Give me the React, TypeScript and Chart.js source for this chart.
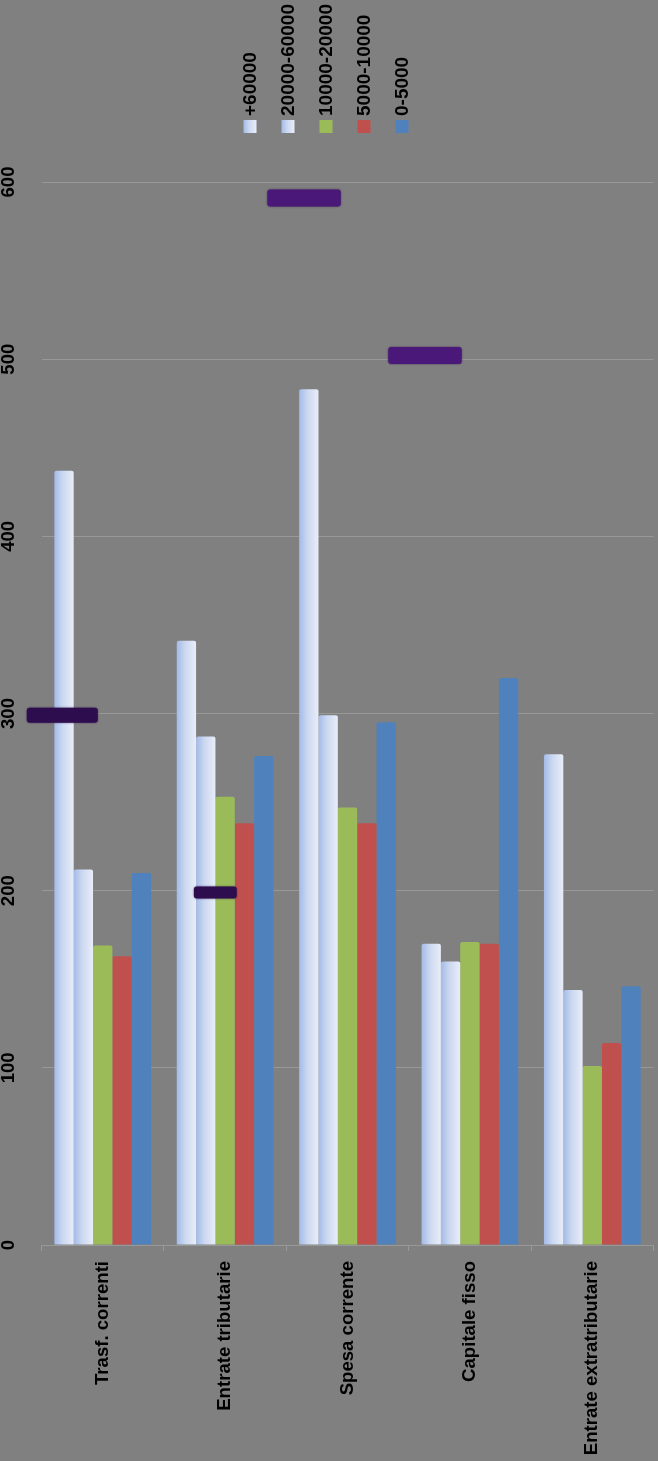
import React, { useEffect, useRef } from 'react';
import { Chart, registerables } from 'chart.js';

Chart.register(...registerables);

const categories = [
  'Trasf. correnti',
  'Entrate tributarie',
  'Spesa corrente',
  'Capitale fisso',
  'Entrate extratributarie',
];
const seriesLabels = ['+60000', '20000-60000', '10000-20000', '5000-10000', '0-5000'];
const valuesOver60000 = [437, 341, 483, 170, 277];
const values20000to60000 = [212, 287, 299, 160, 144];
const values10000to20000 = [169, 253, 247, 171, 101];
const values5000to10000 = [163, 238, 238, 170, 114];
const values0to5000 = [210, 276, 295, 320, 146];
const yTickValues = [0, 100, 200, 300, 400, 500, 600];
// redacted marks placed in categories 0..3
const markerValues = [299, 199, 591, 502];

const FONT = "'Liberation Sans', Arial, sans-serif";
const BG = '#808080';
const GRID = '#989898';
const CAT_PCT = 0.79;
const solidColors = [null, null, '#9bbb59', '#c0504d', '#4f81bd'];
const markerOffsets = [-0.33, -0.08, -0.355, -0.367];
const markerWidths = [0.58, 0.35, 0.6, 0.6];
const markerHeights = [15, 12, 17, 17];

function lightGradient(ctx: CanvasRenderingContext2D, left: number, w: number) {
  const g = ctx.createLinearGradient(left, 0, left + w, 0);
  g.addColorStop(0, '#a3bbe7');
  g.addColorStop(0.45, '#cdd9f1');
  g.addColorStop(1, '#e8edf8');
  return g;
}

const barFill = (c: any) => {
  const ds = c.datasetIndex;
  if (solidColors[ds]) return solidColors[ds];
  const chart = c.chart;
  const xs = chart.scales && chart.scales.x;
  if (!xs || c.type !== 'data' || !xs.width) return '#c8d6f0';
  const catW = xs.width / categories.length;
  const barW = (catW * CAT_PCT) / seriesLabels.length;
  const left = xs.getPixelForValue(c.dataIndex) - (catW * CAT_PCT) / 2 + ds * barW;
  return lightGradient(chart.ctx, left, barW);
};

const markerPlugin = {
  id: 'markers',
  afterDatasetsDraw(chart: any) {
    const { ctx, scales } = chart;
    const x = scales.x;
    const y = scales.y;
    const catW = x.width / categories.length;
    ctx.save();
    markerValues.forEach((v, i) => {
      const cx = x.getPixelForValue(i) + markerOffsets[i] * catW;
      const w = markerWidths[i] * catW;
      const h = markerHeights[i];
      const cy = y.getPixelForValue(v);
      ctx.shadowColor = 'rgba(40,10,70,0.7)';
      ctx.shadowBlur = 2;
      ctx.fillStyle = i < 2 ? '#2e0d4e' : '#4a1878';
      ctx.beginPath();
      (ctx as any).roundRect(cx - w / 2, cy - h / 2, w, h, 3);
      ctx.fill();
    });
    ctx.restore();
  },
};

const legendPlugin = {
  id: 'rotLegend',
  afterDraw(chart: any) {
    const ctx: CanvasRenderingContext2D = chart.ctx;
    ctx.save();
    seriesLabels.forEach((label, i) => {
      const cx = 250 + i * 38;
      const sy = 120;
      const s = 13;
      ctx.fillStyle = solidColors[i] || lightGradient(ctx, cx - s / 2, s);
      ctx.fillRect(cx - s / 2, sy, s, s);
      ctx.save();
      ctx.translate(cx, sy - 4);
      ctx.rotate(-Math.PI / 2);
      ctx.font = `bold 19px ${FONT}`;
      ctx.fillStyle = '#000';
      ctx.textAlign = 'left';
      ctx.textBaseline = 'middle';
      ctx.fillText(label, 0, 1);
      ctx.restore();
    });
    ctx.restore();
  },
};

export default function App() {
  const ref = useRef<HTMLCanvasElement>(null);
  useEffect(() => {
    if (!ref.current) return;
    const seriesValues = [valuesOver60000, values20000to60000, values10000to20000, values5000to10000, values0to5000];
    const chart = new Chart(ref.current, {
      type: 'bar',
      data: {
        labels: categories,
        datasets: seriesLabels.map((label, i) => ({
          label,
          data: seriesValues[i],
          backgroundColor: barFill,
          borderWidth: 0,
          borderRadius: { topLeft: 2, topRight: 2, bottomLeft: 0, bottomRight: 0 },
          borderSkipped: false,
          categoryPercentage: CAT_PCT,
          barPercentage: 1,
        })),
      },
      options: {
        responsive: false,
        animation: false,
        layout: { padding: { top: 182, right: 4.5, left: 0, bottom: 0 } },
        plugins: { legend: { display: false }, tooltip: { enabled: false } },
        scales: {
          x: {
            grid: { drawOnChartArea: false, drawTicks: true, tickLength: 6, color: GRID, offset: true },
            border: { display: true, color: GRID, width: 1 },
            ticks: {
              minRotation: 90,
              maxRotation: 90,
              padding: 10,
              color: '#000',
              font: { family: FONT, size: 18.6, weight: 'bold' },
              autoSkip: false,
            },
            afterFit: (s: any) => { s.height = 216; },
          },
          y: {
            min: 0,
            max: 600,
            afterBuildTicks: (s: any) => { s.ticks = yTickValues.map((v) => ({ value: v })); },
            grid: { color: GRID, drawTicks: false, lineWidth: 1 },
            border: { display: false },
            ticks: {
              minRotation: 90,
              maxRotation: 90,
              crossAlign: 'center',
              padding: 17,
              color: '#000',
              font: { family: FONT, size: 18.6, weight: 'bold' },
            },
            afterFit: (s: any) => { s.width = 41.5; },
          },
        },
      },
      plugins: [markerPlugin, legendPlugin],
    } as any);
    return () => chart.destroy();
  }, []);
  return (
    <div style={{ position: 'absolute', left: 0, top: 0, width: 658, height: 1461, background: BG }}>
      <canvas ref={ref} width={658} height={1461} style={{ display: 'block', width: 658, height: 1461 }} />
    </div>
  );
}
